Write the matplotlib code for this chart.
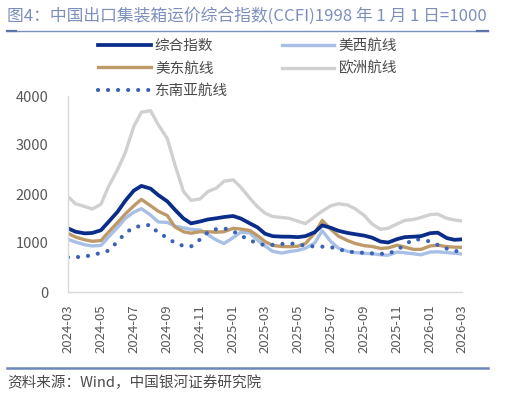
import matplotlib
matplotlib.use("Agg")
import matplotlib.pyplot as plt
import matplotlib.dates as mdates
from matplotlib.lines import Line2D
import pandas as pd

plt.rcParams['font.family'] = ['Noto Sans CJK SC', 'DejaVu Sans']

# semi-monthly readings, 2024-03 .. 2026-03
dates = pd.date_range('2024-03-01', '2026-03-01', freq='SMS')

composite = [1299, 1230, 1197, 1205, 1260, 1430, 1640, 1860, 2070, 2165,
             2110, 1980, 1850, 1680, 1500, 1400, 1440, 1480, 1505, 1530,
             1551, 1500, 1400, 1320, 1190, 1140, 1130, 1129, 1120, 1140,
             1220, 1360, 1310, 1250, 1205, 1180, 1150, 1110, 1030, 1010,
             1080, 1120, 1129, 1140, 1200, 1211, 1100, 1065, 1075]
us_west = [1075, 1020, 965, 940, 950, 1120, 1320, 1500, 1630, 1700,
           1571, 1430, 1420, 1345, 1310, 1279, 1265, 1170, 1060, 990,
           1110, 1220, 1205, 1060, 940, 830, 795, 825, 850, 895,
           1000, 1250, 1030, 895, 830, 805, 790, 780, 760, 750,
           815, 800, 780, 760, 815, 820, 805, 790, 775]
us_east = [1197, 1120, 1065, 1035, 1050, 1220, 1420, 1590, 1760, 1890,
           1760, 1650, 1560, 1330, 1230, 1200, 1231, 1231, 1220, 1230,
           1299, 1285, 1255, 1150, 1030, 950, 930, 925, 935, 990,
           1200, 1460, 1280, 1140, 1050, 990, 945, 930, 890, 900,
           955, 915, 870, 870, 940, 955, 925, 915, 912]
europe = [1946, 1800, 1745, 1694, 1790, 2150, 2500, 2840, 3380, 3670,
          3700, 3420, 3130, 2600, 2050, 1870, 1900, 2050, 2120, 2260,
          2290, 2140, 1912, 1740, 1610, 1540, 1520, 1503, 1445, 1395,
          1540, 1650, 1760, 1800, 1776, 1700, 1560, 1390, 1280, 1300,
          1390, 1460, 1480, 1520, 1580, 1590, 1503, 1470, 1449]
se_asia = [708, 712, 720, 760, 795, 844, 1030, 1200, 1320, 1350,
           1370, 1205, 1110, 1000, 940, 930, 1075, 1220, 1285, 1300,
           1240, 1150, 1060, 990, 959, 962, 980, 993, 975, 945,
           928, 925, 915, 875, 825, 810, 800, 789, 780, 780,
           860, 965, 1075, 1070, 1030, 960, 885, 850, 789]

title = '图4：中国出口集装箱运价综合指数(CCFI)1998 年 1 月 1 日=1000'
source = '资料来源：Wind，中国银河证券研究院'

fig = plt.figure(figsize=(5.06, 3.97), dpi=100)
ax = fig.add_axes([68 / 506, 1 - 292 / 397, (462 - 68) / 506, (292 - 96) / 397])

l_eu, = ax.plot(dates, europe, color='#d0d0d0', lw=2.4, label='欧洲航线')
l_usw, = ax.plot(dates, us_west, color='#a8bfe6', lw=2.4, label='美西航线')
l_use, = ax.plot(dates, us_east, color='#bf9a69', lw=2.4, label='美东航线')
l_sea, = ax.plot(dates, se_asia, color='#3a63b5', lw=3.0,
                 linestyle=(0, (0.01, 2.4)), dash_capstyle='round', label='东南亚航线')
l_cmp, = ax.plot(dates, composite, color='#0b2d8a', lw=2.7, label='综合指数')

ax.set_ylim(0, 4000)
ax.set_yticks([0, 1000, 2000, 3000, 4000])
ax.set_xlim(dates[0], dates[-1])
ax.xaxis.set_major_locator(mdates.MonthLocator(bymonth=[1, 3, 5, 7, 9, 11]))
ax.xaxis.set_major_formatter(mdates.DateFormatter('%Y-%m'))
ax.tick_params(axis='x', labelrotation=90, length=0, pad=9, labelsize=9.5, labelcolor='#595959')
ax.tick_params(axis='y', length=0, pad=14, labelsize=10.5, labelcolor='#595959')
for side in ['top', 'right']:
    ax.spines[side].set_visible(False)
for side in ['left', 'bottom']:
    ax.spines[side].set_color('#d9d9d9')
    ax.spines[side].set_linewidth(1.0)

leg = fig.legend([l_cmp, l_use, l_sea, l_usw, l_eu],
                 ['综合指数', '美东航线', '东南亚航线', '美西航线', '欧洲航线'],
                 ncol=2, loc='upper left', bbox_to_anchor=(98 / 506, 1 - 39 / 397),
                 frameon=False, fontsize=10.5, handlelength=3.6, handletextpad=0.3,
                 columnspacing=3.7, labelspacing=0.58, borderaxespad=0, borderpad=0)
for t in leg.get_texts():
    t.set_color('#4a4a4a')

# title and rules
fig.text(7 / 506, 1 - 16 / 397, title, fontsize=12.1, color='#7d8fbd', va='center', ha='left')
fig.add_artist(Line2D([7 / 506, 488 / 506], [1 - 31 / 397] * 2, color='#7d8fbd', lw=1.0))
fig.add_artist(Line2D([7 / 506, 16 / 506], [1 - 31 / 397] * 2, color='#5f75aa', lw=1.6))
fig.add_artist(Line2D([477 / 506, 488 / 506], [1 - 31 / 397] * 2, color='#5f75aa', lw=1.6))
fig.add_artist(Line2D([7 / 506, 488 / 506], [1 - 368 / 397] * 2, color='#6f86b8', lw=1.8))
fig.text(7 / 506, 1 - 383 / 397, source, fontsize=10.5, color='#4a4a4a', va='center', ha='left',
         style='italic')

fig.savefig('out.png', dpi=100)
